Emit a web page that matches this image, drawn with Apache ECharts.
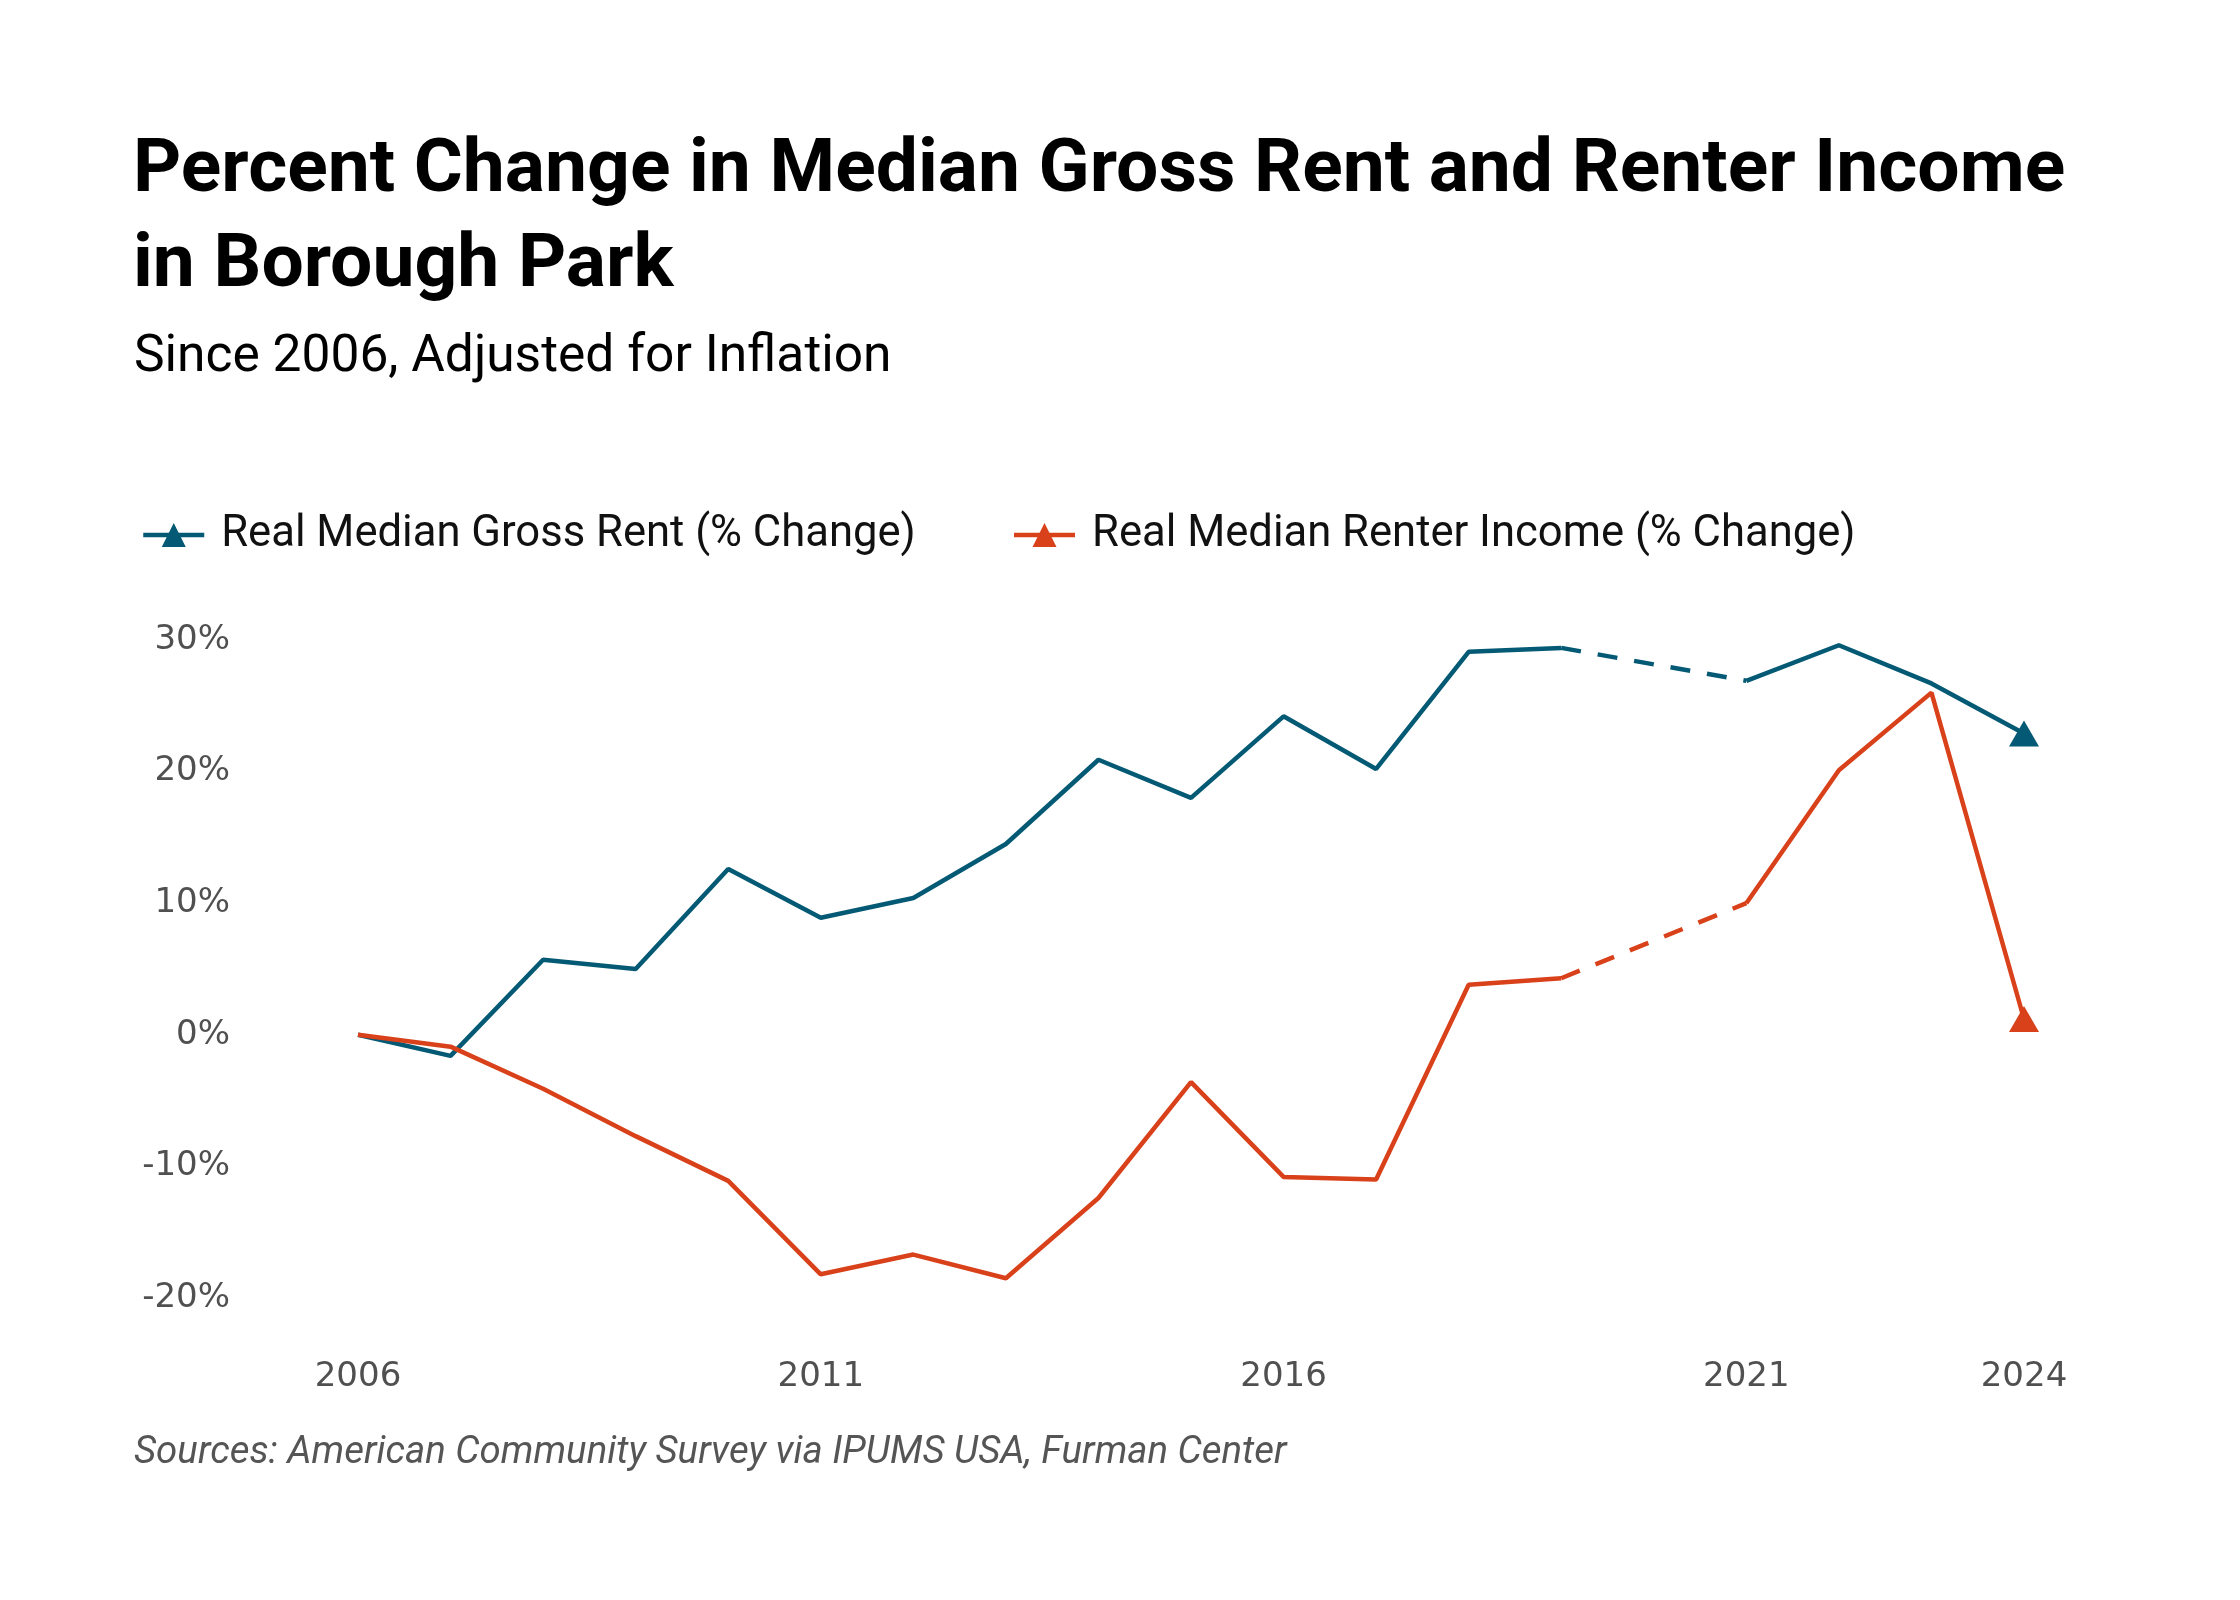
<!DOCTYPE html>
<html><head><meta charset="utf-8">
<script src="https://cdn.jsdelivr.net/npm/echarts@6/dist/echarts.min.js"></script>
<style>html,body{margin:0;padding:0;background:#fff}#c{width:2240px;height:1600px}</style>
</head><body><div id="c"></div>
<script>
const years = ['2006','2007','2008','2009','2010','2011','2012','2013','2014','2015','2016','2017','2018','2019','2020','2021','2022','2023','2024'];
const rentChange = [0, -1.6, 5.7, 5.0, 12.6, 8.9, 10.4, 14.5, 20.9, 18.0, 24.2, 20.2, 29.1, 29.4, null, 26.9, 29.6, 26.7, 22.9];
const incomeChange = [0, -0.9, -4.1, -7.7, -11.1, -18.2, -16.7, -18.5, -12.4, -3.6, -10.8, -11.0, 3.8, 4.3, null, 10.0, 20.1, 26.0, 1.2];
const shownYears = ['2006','2011','2016','2021','2024'];
const seriesNames = ['Real Median Gross Rent (% Change)', 'Real Median Renter Income (% Change)'];
const colors = ['#045a74', '#d9411a'];

function gapBridge(arr) {
  return arr.map((v, i) => (i > 0 && i < arr.length - 1 && (arr[i - 1] === null || arr[i + 1] === null)) ? v : null);
}
const lastIdx = years.length - 1;
function endSymbol(v, p) { return p.dataIndex === lastIdx ? [30, 26] : 0; }

const axisFont = 'DejaVu Sans';
const chart = echarts.init(document.getElementById('c'), null, {renderer: 'canvas'});
function solid(name, data, color) {
  return {
    name, type: 'line', data, color,
    symbol: 'triangle', symbolSize: endSymbol, showSymbol: true, showAllSymbol: true,
    connectNulls: false,
    lineStyle: {width: 4.5, color},
    itemStyle: {color},
    emphasis: {disabled: true},
    z: 3
  };
}
function dashed(name, data, color) {
  return {
    name, type: 'line', data: gapBridge(data), color,
    symbol: 'none', connectNulls: true,
    lineStyle: {width: 4.5, color, type: [20, 17]},
    emphasis: {disabled: true},
    z: 2
  };
}
chart.setOption({
  animation: false,
  backgroundColor: '#fff',
  title: [
    {text: 'Percent Change in Median Gross Rent and Renter Income\nin Borough Park', left: 128, top: 120,
     textStyle: {fontFamily: 'Roboto', fontWeight: 'bold', fontSize: 75, lineHeight: 95, color: '#000'}},
    {text: 'Since 2006, Adjusted for Inflation', left: 129, top: 327,
     textStyle: {fontFamily: 'Roboto', fontWeight: 'normal', fontSize: 51.5, color: '#000'}},
    {text: 'Sources: American Community Survey via IPUMS USA, Furman Center', left: 129, top: 1429,
     textStyle: {fontFamily: 'Roboto', fontStyle: 'italic', fontWeight: 'normal', fontSize: 38.4, color: '#555'}}
  ],
  legend: {
    data: seriesNames, left: 141, top: 513, padding: 0, itemWidth: 61, itemHeight: 30, itemGap: 96,
    lineStyle: {width: 4.5},
    textStyle: {fontFamily: 'Roboto', fontSize: 43.6, color: '#111', padding: [0, 0, 0, 12]}
  },
  grid: {left: 358, right: 216, top: 640, bottom: 302, containLabel: false},
  xAxis: {
    type: 'category', data: years, boundaryGap: false,
    axisLine: {show: false}, axisTick: {show: false},
    axisLabel: {interval: (i, v) => shownYears.includes(v), margin: 62,
      fontFamily: axisFont, fontSize: 34, color: '#505050'}
  },
  yAxis: {
    type: 'value', min: -20, max: 30, interval: 10,
    axisLine: {show: false}, axisTick: {show: false}, splitLine: {show: false},
    axisLabel: {formatter: '{value}%', margin: 128, fontFamily: axisFont, fontSize: 34, color: '#505050'}
  },
  series: [
    solid(seriesNames[0], rentChange, colors[0]),
    solid(seriesNames[1], incomeChange, colors[1]),
    dashed('rent-gap', rentChange, colors[0]),
    dashed('income-gap', incomeChange, colors[1])
  ]
});
</script></body></html>
